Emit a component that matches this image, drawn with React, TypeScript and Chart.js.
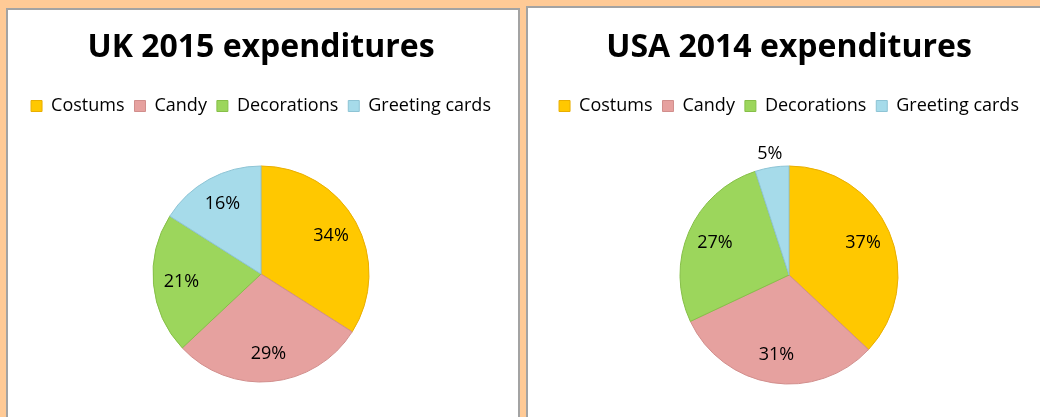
import React, { useEffect, useRef } from "react";
import { Chart, registerables } from "chart.js";

Chart.register(...registerables);

const categories = ["Costums", "Candy", "Decorations", "Greeting cards"];
const ukValues = [34, 29, 21, 16];
const usaValues = [37, 31, 27, 5];
const ukTitle = "UK 2015 expenditures";
const usaTitle = "USA 2014 expenditures";
const sliceColors = ["#FFC800", "#E6A19F", "#9CD65C", "#A6DBEA"];
const sliceEdges = ["#E9AE00", "#D18E8C", "#86BF48", "#8EC4D5"];

const FONT = "'Open Sans', 'Liberation Sans', sans-serif";

const pctLabels = {
  id: "pctLabels",
  afterDatasetsDraw(chart: any) {
    const ctx = chart.ctx;
    const meta = chart.getDatasetMeta(0);
    const data = chart.data.datasets[0].data as number[];
    ctx.save();
    ctx.font = `18px ${FONT}`;
    ctx.fillStyle = "#000000";
    ctx.textAlign = "center";
    ctx.textBaseline = "middle";
    meta.data.forEach((arc: any, i: number) => {
      const p = arc.getProps(["x", "y", "startAngle", "endAngle", "outerRadius"], true);
      const mid = (p.startAngle + p.endAngle) / 2;
      const v = data[i];
      const r = v < 8 ? p.outerRadius + 14 : p.outerRadius * 0.74;
      ctx.fillText(`${v}%`, p.x + Math.cos(mid) * r, p.y + Math.sin(mid) * r);
    });
    ctx.restore();
  },
};

type PieProps = {
  title: string;
  values: number[];
  left: number;
  width: number;
  radius: number;
  padRight: number;
  padBottom: number;
};

function PieChart({ title, values, left, width, radius, padRight, padBottom }: PieProps) {
  const ref = useRef<HTMLCanvasElement>(null);
  useEffect(() => {
    if (!ref.current) return;
    const chart = new Chart(ref.current, {
      type: "pie",
      data: {
        labels: categories,
        datasets: [
          {
            data: values,
            backgroundColor: sliceColors,
            borderColor: sliceEdges,
            borderWidth: 1,
            radius: radius,
          },
        ],
      },
      options: {
        responsive: false,
        animation: false,
        devicePixelRatio: 1,
        layout: { padding: { left: 0, right: padRight, top: 0, bottom: padBottom } },
        plugins: {
          title: {
            display: true,
            text: title,
            color: "#000000",
            font: { family: FONT, size: 32, weight: "bold", lineHeight: 1.2 },
            padding: { top: 28.8, bottom: 19.8 },
          },
          legend: {
            display: true,
            position: "top",
            labels: {
              color: "#000000",
              font: { family: FONT, size: 18 },
              boxWidth: 11,
              boxHeight: 11,
              padding: 10,
              generateLabels: () =>
                categories.map((name, i) => ({
                  text: name,
                  fillStyle: sliceColors[i],
                  strokeStyle: sliceEdges[i],
                  lineWidth: 1,
                  hidden: false,
                  index: i,
                  fontColor: "#000000",
                })),
            },
          },
          tooltip: { enabled: false },
        },
      },
      plugins: [pctLabels],
    });
    return () => chart.destroy();
  }, []);
  return (
    <canvas
      ref={ref}
      width={width}
      height={440}
      style={{ position: "absolute", left, top: 0, width, height: 440 }}
    />
  );
}

export default function App() {
  return (
    <div
      style={{
        position: "fixed",
        left: 0,
        top: 0,
        width: 1040,
        height: 417,
        overflow: "hidden",
        background: "#FFCA96",
      }}
    >
      <div
        style={{
          position: "absolute",
          left: 6,
          top: 8,
          width: 510,
          height: 430,
          background: "#FFFFFF",
          border: "2px solid #A3A3A3",
        }}
      />
      <div
        style={{
          position: "absolute",
          left: 526,
          top: 6,
          width: 530,
          height: 430,
          background: "#FFFFFF",
          border: "2px solid #A3A3A3",
        }}
      />
      <PieChart title={ukTitle} values={ukValues} left={8} width={510} radius={108} padRight={4} padBottom={17} />
      <PieChart title={usaTitle} values={usaValues} left={528} width={522} radius={109} padRight={0} padBottom={15} />
    </div>
  );
}
